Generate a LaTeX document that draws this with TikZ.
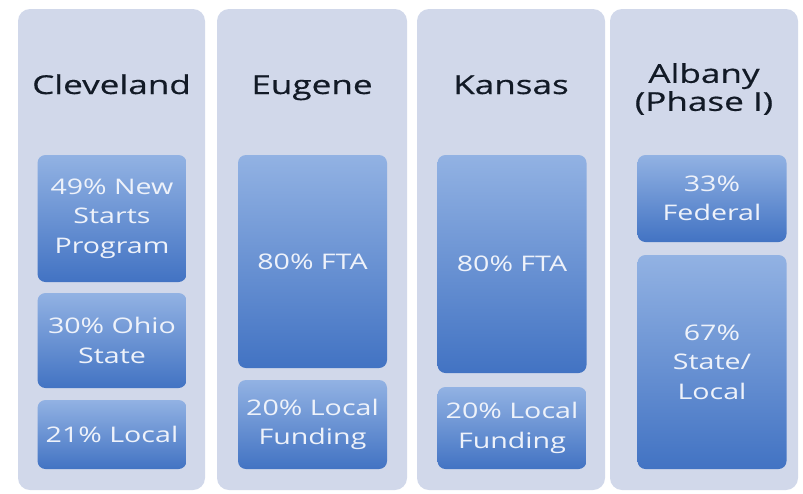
\documentclass[tikz,border=0pt]{standalone}
\usepackage{fontspec}
\usepackage{tikz}
\usetikzlibrary{calc,positioning}
\newfontfamily\widefont{Open Sans}[FakeStretch=1.33]
\newfontfamily\ttlfamily{Open Sans}[FakeStretch=1.35,FakeBold=0.5]
\newcommand\ttlfont{\ttlfamily\fontsize{26}{28}\selectfont}
\newcommand\segfont{\widefont\fontsize{21.5}{29.5}\selectfont}
\definecolor{colbg}{RGB}{209,216,234}
\definecolor{segtop}{RGB}{146,178,227}
\definecolor{segbot}{RGB}{66,115,195}
\definecolor{segtxt}{RGB}{238,242,250}
\definecolor{ttltxt}{RGB}{18,26,38}

\begin{document}
\begin{tikzpicture}[x=1pt,y=-1pt,
  col/.style={fill=colbg,rounded corners=12pt},
  seg/.style={rounded corners=8pt,top color=segtop,bottom color=segbot,
    text=segtxt,font=\segfont,align=center,inner sep=0pt,minimum width=149pt},
  ttl/.style={font=\ttlfont,text=ttltxt,align=center}]
\useasboundingbox (0,0) rectangle (803,493);
%the columns
\foreach \l/\r in {18/205,217/407,417/605,610/798} {
\fill[col] (\l,9) rectangle (\r,490);
}
%titles
\node[ttl,anchor=base] (CLE) at (111.5,94) {Cleveland};
\node[ttl,anchor=base] (EUG) at (312,94) {Eugene};
\node[ttl,anchor=base] (KAN) at (511,94) {Kansas};
\node[ttl] (ALB) at (704,89) {Albany\\(Phase I)};
%cleveland
\node[seg,minimum height=127pt] (CLE1) at (112,218.5) {49\% New\\Starts\\Program};
\node[seg,minimum height=95pt] (CLE2) at (112,340.5) {30\% Ohio\\State};
\node[seg,minimum height=69pt] (CLE3) at (112,434.5) {21\% Local};
%eugene
\node[seg,minimum height=213pt] (EUG1) at (312.5,261.5) {80\% FTA};
\node[seg,minimum height=89pt] (EUG2) at (312.5,424.5) {20\% Local\\Funding};
%kansas
\node[seg,minimum height=218pt] (KAN1) at (512,264) {80\% FTA};
\node[seg,minimum height=82pt] (KAN2) at (512,428) {20\% Local\\Funding};
%albany
\node[seg,minimum height=87pt] (ALB1) at (712,198.5) {33\%\\Federal};
\node[seg,minimum height=214pt] (ALB2) at (712,362) {67\%\\State/\\Local};
\end{tikzpicture}
\end{document}
